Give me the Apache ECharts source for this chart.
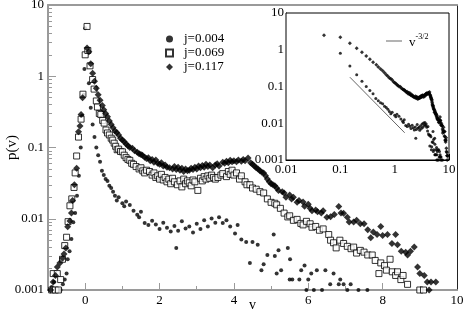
<!DOCTYPE html>
<html>
<head>
<meta charset="utf-8">
<script src="https://cdn.jsdelivr.net/npm/echarts@6/dist/echarts.min.js"></script>
<style>html,body{margin:0;padding:0;background:#fff}#c{width:463px;height:317px}</style>
</head>
<body>
<div id="c"></div>
<script>
// ---- data ----
const names = ['j=0.004', 'j=0.069', 'j=0.117'];
const xTickLabels = [0, 2, 4, 6, 8, 10];

const j004V = [-0.95,-0.9,-0.84,-0.78,-0.72,-0.66,-0.6,-0.55,-0.5,-0.47,-0.42,-0.37,-0.32,-0.27,-0.22,-0.17,-0.12,-0.08,-0.04,-0.02,0.0,
  0.1,0.15,0.2,0.25,0.3,0.35,0.4,0.45,0.5,0.55,0.6,0.65,0.7,0.75,0.8,0.85,0.9,1.0,1.05,1.1,1.2,1.3,1.4,1.45,1.5,1.6,1.7,1.8,1.9,
  2.0,2.1,2.2,2.3,2.4,2.45,2.5,2.6,2.7,2.8,2.9,3.0,3.1,3.2,3.3,3.4,3.5,3.6,3.7,3.8,3.9,4.03,4.1,4.2,4.33,4.43,4.5,4.64,4.74,4.8,4.9,
  5.07,5.1,5.15,5.2,5.27,5.45,5.5,5.51,5.57,5.76,5.81,5.9,5.95,6.0,6.08,6.15,6.23,6.37,6.46,6.59,6.68,6.82,6.86,6.95,7.05,7.14,7.35,7.59];
const j004P = [0.001,0.0011,0.0013,0.001,0.001,0.001,0.0012,0.0014,0.0017,0.0027,0.0035,0.0052,0.0089,0.012,0.021,0.04,0.1,0.28,0.55,1.26,4.7,
  0.8,0.36,0.21,0.14,0.1,0.078,0.063,0.047,0.041,0.036,0.034,0.029,0.027,0.024,0.021,0.018,0.02,0.0165,0.015,0.0175,0.0156,0.013,0.0114,0.0105,0.0125,0.0087,0.0082,0.0094,0.0083,
  0.0072,0.0088,0.0075,0.0066,0.0079,0.0039,0.0068,0.0092,0.0073,0.0078,0.0064,0.0085,0.0072,0.0095,0.0078,0.0101,0.0088,0.0105,0.0087,0.0095,0.0078,0.0062,0.0082,0.0051,0.0047,0.0024,0.0047,0.0043,0.0019,0.0023,0.0031,
  0.006,0.003,0.0017,0.0036,0.0019,0.0039,0.0014,0.0027,0.0014,0.0014,0.0019,0.0022,0.001,0.0014,0.0017,0.001,0.0019,0.001,0.0019,0.0012,0.0017,0.0012,0.0014,0.0012,0.001,0.0012,0.001,0.001];

const j069V = [-0.9,-0.86,-0.8,-0.75,-0.72,-0.66,-0.61,-0.55,-0.5,-0.46,-0.41,-0.36,-0.3,-0.27,-0.23,-0.18,-0.11,-0.06,0.0,0.05,0.07,0.13,0.2,0.24,
  0.3,0.33,0.38,0.42,0.47,0.51,0.56,0.6,0.65,0.7,0.74,0.78,0.82,0.86,0.9,0.95,1.0,1.05,1.1,1.15,1.2,1.25,1.3,1.37,1.45,1.5,1.55,1.6,1.65,1.73,1.8,1.85,1.9,1.95,
  2.0,2.05,2.1,2.15,2.2,2.25,2.3,2.35,2.4,2.48,2.55,2.6,2.65,2.7,2.75,2.8,2.85,2.9,2.95,3.03,3.1,3.15,3.2,3.25,3.3,3.35,3.4,3.45,3.5,3.57,3.65,3.7,3.8,3.85,3.9,3.95,
  4.0,4.07,4.15,4.2,4.3,4.35,4.43,4.5,4.6,4.7,4.8,4.9,5.0,5.1,5.15,5.25,5.35,5.45,5.5,5.6,5.7,5.8,5.86,5.95,6.05,6.1,6.2,6.3,6.4,6.55,6.6,6.68,6.75,6.85,6.95,
  7.05,7.15,7.22,7.3,7.4,7.5,7.6,7.72,7.8,7.9,7.95,8.05,8.1,8.2,8.26,8.35,8.4,8.49,8.55,8.67,9.0,9.1];
const j069P = [0.001,0.0017,0.001,0.0017,0.001,0.0014,0.0027,0.0042,0.0055,0.0091,0.0152,0.019,0.0275,0.044,0.076,0.14,0.25,0.56,2.0,5.0,2.3,1.4,0.9,0.66,
  0.45,0.37,0.3,0.29,0.24,0.22,0.176,0.16,0.15,0.135,0.127,0.115,0.104,0.093,0.095,0.088,0.087,0.078,0.072,0.068,0.066,0.06,0.058,0.054,0.05,0.052,0.047,0.044,0.048,0.046,0.041,0.044,0.038,0.04,
  0.036,0.042,0.035,0.038,0.033,0.036,0.031,0.037,0.033,0.03,0.034,0.028,0.036,0.031,0.034,0.032,0.029,0.035,0.033,0.025,0.037,0.034,0.039,0.036,0.04,0.037,0.041,0.038,0.036,0.038,0.041,0.043,0.039,0.046,0.042,0.048,
  0.041,0.044,0.036,0.04,0.033,0.03,0.03,0.027,0.026,0.024,0.023,0.019,0.017,0.0165,0.0157,0.014,0.012,0.0106,0.011,0.0095,0.0098,0.0086,0.0082,0.0092,0.0085,0.0076,0.0078,0.0069,0.0072,0.006,0.005,0.0046,0.0039,0.005,0.0045,
  0.0041,0.0038,0.004,0.0033,0.0036,0.0034,0.0031,0.0031,0.0026,0.0017,0.0024,0.0022,0.0019,0.0027,0.0018,0.0016,0.0018,0.0014,0.0016,0.0012,0.001,0.001];

const j117V = [-0.93,-0.86,-0.8,-0.75,-0.68,-0.61,-0.57,-0.52,-0.47,-0.41,-0.37,-0.34,-0.29,-0.23,-0.18,-0.14,-0.11,-0.07,
  0.05,0.1,0.15,0.2,0.25,0.3,0.35,0.4,0.46,0.5,0.55,0.6,0.65,0.7,0.75,0.8,0.85,0.9,0.95,1.0,1.05,1.1,1.15,1.2,1.27,1.33,1.4,1.45,1.5,1.54,1.6,1.65,1.7,1.75,1.8,1.85,1.9,1.95,
  2.0,2.05,2.1,2.15,2.2,2.27,2.35,2.4,2.45,2.5,2.55,2.6,2.65,2.7,2.75,2.8,2.85,2.9,2.95,3.0,3.05,3.1,3.15,3.2,3.25,3.3,3.35,3.43,3.5,3.55,3.6,3.7,3.75,3.8,3.85,3.9,3.95,
  4.0,4.07,4.12,4.2,4.25,4.3,4.38,4.45,4.5,4.55,4.6,4.65,4.7,4.75,4.8,4.85,4.9,4.95,5.0,5.05,5.1,5.15,5.2,5.3,5.35,5.4,5.5,5.55,5.6,5.7,5.75,5.86,5.9,
  6.0,6.05,6.1,6.2,6.25,6.35,6.4,6.5,6.6,6.7,6.82,6.88,6.95,7.05,7.1,7.22,7.3,7.4,7.5,7.6,7.68,7.75,7.85,7.95,8.0,8.13,8.25,8.35,8.4,8.5,8.62,8.67,8.75,8.85,8.94,9.0,9.12,9.2,9.25,9.3,9.43];
const j117P = [0.001,0.0013,0.0016,0.0021,0.0024,0.0028,0.0032,0.0039,0.0077,0.0093,0.012,0.018,0.03,0.051,0.167,0.2,0.29,0.5,
  2.5,2.2,1.5,1.1,0.85,0.68,0.55,0.46,0.39,0.34,0.3,0.27,0.235,0.21,0.19,0.17,0.163,0.15,0.135,0.127,0.12,0.112,0.106,0.1,0.098,0.09,0.086,0.082,0.08,0.078,0.073,0.07,0.072,0.065,0.068,0.062,0.067,0.06,
  0.058,0.061,0.055,0.057,0.053,0.052,0.05,0.054,0.049,0.053,0.048,0.051,0.046,0.05,0.047,0.048,0.051,0.049,0.053,0.05,0.055,0.052,0.056,0.053,0.058,0.054,0.057,0.052,0.057,0.059,0.055,0.062,0.06,0.064,0.061,0.066,0.063,
  0.065,0.063,0.067,0.064,0.068,0.065,0.071,0.061,0.058,0.055,0.052,0.05,0.047,0.045,0.044,0.04,0.036,0.033,0.031,0.03,0.029,0.027,0.025,0.024,0.023,0.02,0.0215,0.019,0.02,0.017,0.018,0.0172,0.015,
  0.016,0.014,0.013,0.0133,0.0125,0.012,0.013,0.0105,0.0107,0.0115,0.0148,0.012,0.0119,0.0105,0.009,0.009,0.0095,0.0085,0.0085,0.007,0.0054,0.0065,0.006,0.0078,0.0058,0.006,0.0045,0.006,0.0043,0.0035,0.0034,0.0031,0.0035,0.004,0.0021,0.0017,0.0016,0.0013,0.001,0.0013,0.0013];

// guide line v^-3/2 in the inset
const powV = [0.15, 1.53];
const powP = [0.179, 0.0055];

// ---- build ----
const pairs = (V, P) => V.map((v, i) => [v, P[i]]);
const positive = arr => arr.filter(d => d[0] > 0);
const logMinor = (e0, e1) => { const r = []; for (let e = e0; e < e1; e++) for (let k = 2; k <= 9; k++) r.push(Math.log10(k) + e); return r; };

const FONT = 'Liberation Serif';
const GRAY = '#9a9a9a';

const chart = echarts.init(document.getElementById('c'), null, { renderer: 'canvas' });
chart.setOption({
  animation: false,
  backgroundColor: '#fff',
  textStyle: { fontFamily: FONT },
  grid: [
    { left: 48, top: 5, right: 6, bottom: 27, show: false, containLabel: false, outerBoundsMode: 'none' },
    { left: 286, top: 13, width: 163, height: 147, show: true, backgroundColor: '#fff', borderColor: '#000', borderWidth: 1, z: 5,
      containLabel: false, outerBoundsMode: 'none' }
  ],
  legend: [
    { data: [{ name: names[0], icon: 'circle' }, { name: names[1], icon: 'rect' }, { name: names[2], icon: 'diamond' }],
      orient: 'vertical', left: 160, top: 27, itemWidth: 7, itemHeight: 7, itemGap: 0,
      selectedMode: false, textStyle: { fontFamily: FONT, fontSize: 13, color: '#000', lineHeight: 14, padding: [0, 0, 0, 6] } },
    { data: [{ name: 'pow', icon: 'rect' }], left: 381, top: 28, itemWidth: 16, itemHeight: 1, selectedMode: false, z: 10,
      formatter: () => '{a|v}{b|-3/2}',
      textStyle: { fontFamily: FONT, color: '#000', padding: [0, 0, 0, 2],
        rich: { a: { fontFamily: FONT, fontSize: 13, verticalAlign: 'bottom', lineHeight: 16 },
                b: { fontFamily: FONT, fontSize: 8, verticalAlign: 'top', lineHeight: 16 } } } }
  ],
  xAxis: [
    { gridIndex: 0, type: 'value', min: -1, max: 10, position: 'bottom',
      name: 'v', nameLocation: 'middle', nameGap: 15, nameMoveOverlap: false,
      nameTextStyle: { fontFamily: FONT, fontSize: 14, color: '#000', verticalAlign: 'middle' },
      axisLine: { onZero: false, lineStyle: { color: GRAY, width: 2 } },
      axisTick: { inside: true, length: 7, customValues: [0, 2, 4, 6, 8], lineStyle: { color: GRAY, width: 1 } },
      axisLabel: { customValues: xTickLabels, fontFamily: FONT, fontSize: 13, color: '#000', margin: 4 },
      splitLine: { show: false } },
    { gridIndex: 0, type: 'value', min: -1, max: 10, position: 'top',
      axisLine: { onZero: false, lineStyle: { color: GRAY, width: 2 } }, axisTick: { show: false }, axisLabel: { show: false }, splitLine: { show: false } },
    { gridIndex: 0, type: 'value', min: -1, max: 10, position: 'bottom',
      axisLine: { show: false, onZero: false },
      axisTick: { inside: true, length: 4, customValues: [1, 3, 5, 7, 9], lineStyle: { color: GRAY, width: 1 } },
      axisLabel: { show: false }, splitLine: { show: false } },
    { gridIndex: 1, type: 'log', logBase: 10, min: 0.01, max: 10, position: 'bottom',
      axisLine: { onZero: false, lineStyle: { color: '#000', width: 1 } },
      axisTick: { inside: true, length: 6, lineStyle: { color: '#000' } },
      axisLabel: { fontFamily: FONT, fontSize: 13, color: '#000', margin: 3, formatter: v => String(v) },
      splitLine: { show: false } },
    { gridIndex: 1, type: 'value', min: -2, max: 1, position: 'bottom',
      axisLine: { show: false, onZero: false },
      axisTick: { inside: true, length: 3, customValues: logMinor(-2, 1), lineStyle: { color: '#000' } },
      axisLabel: { show: false }, splitLine: { show: false } }
  ],
  yAxis: [
    { gridIndex: 0, type: 'log', logBase: 10, min: 0.001, max: 10, position: 'left',
      name: 'p(v)', nameLocation: 'middle', nameGap: 36, nameRotate: 90, nameMoveOverlap: false,
      nameTextStyle: { fontFamily: FONT, fontSize: 15, color: '#000', verticalAlign: 'middle' },
      axisLine: { onZero: false, lineStyle: { color: GRAY, width: 2 } },
      axisTick: { inside: true, length: 8, lineStyle: { color: GRAY, width: 1 } },
      axisLabel: { fontFamily: FONT, fontSize: 13, color: '#000', margin: 4, formatter: v => String(v) },
      splitLine: { show: false } },
    { gridIndex: 0, type: 'value', min: -3, max: 1, position: 'left',
      axisLine: { show: false, onZero: false },
      axisTick: { inside: true, length: 4, customValues: logMinor(-3, 1), lineStyle: { color: GRAY, width: 1 } },
      axisLabel: { show: false }, splitLine: { show: false } },
    { gridIndex: 0, type: 'value', min: -3, max: 1, position: 'right',
      axisLine: { onZero: false, lineStyle: { color: '#222', width: 1 } }, axisTick: { show: false }, axisLabel: { show: false }, splitLine: { show: false } },
    { gridIndex: 1, type: 'log', logBase: 10, min: 0.001, max: 10, position: 'left',
      axisLine: { onZero: false, lineStyle: { color: '#000', width: 1 } },
      axisTick: { inside: true, length: 6, lineStyle: { color: '#000' } },
      axisLabel: { fontFamily: FONT, fontSize: 13, color: '#000', margin: 2, formatter: v => String(v) },
      splitLine: { show: false } },
    { gridIndex: 1, type: 'value', min: -3, max: 1, position: 'left',
      axisLine: { show: false, onZero: false },
      axisTick: { inside: true, length: 3, customValues: logMinor(-3, 1), lineStyle: { color: '#000' } },
      axisLabel: { show: false }, splitLine: { show: false } }
  ],
  series: [
    { name: names[0], type: 'scatter', xAxisIndex: 0, yAxisIndex: 0, symbol: 'circle', symbolSize: 4,
      itemStyle: { color: '#000' }, data: pairs(j004V, j004P), z: 2 },
    { name: names[1], type: 'scatter', xAxisIndex: 0, yAxisIndex: 0, symbol: 'rect', symbolSize: 6,
      itemStyle: { color: '#fff', borderColor: '#000', borderWidth: 1 }, data: pairs(j069V, j069P), z: 2 },
    { name: names[2], type: 'scatter', xAxisIndex: 0, yAxisIndex: 0, symbol: 'diamond', symbolSize: 7,
      itemStyle: { color: '#000' }, data: pairs(j117V, j117P), z: 3 },
    { name: 'inset-0.117', type: 'scatter', xAxisIndex: 3, yAxisIndex: 3, symbol: 'diamond', symbolSize: 4,
      itemStyle: { color: '#000' }, data: positive(pairs(j117V, j117P)), z: 6 },
    { name: 'inset-0.004', type: 'scatter', xAxisIndex: 3, yAxisIndex: 3, symbol: 'circle', symbolSize: 3,
      itemStyle: { color: '#000' }, data: positive(pairs(j004V, j004P)), z: 6 },
    { name: 'pow', type: 'line', xAxisIndex: 3, yAxisIndex: 3, symbol: 'none', showSymbol: false,
      lineStyle: { color: '#666', width: 1 }, itemStyle: { color: '#666' }, data: pairs(powV, powP), z: 6 }
  ]
});
</script>
</body>
</html>
